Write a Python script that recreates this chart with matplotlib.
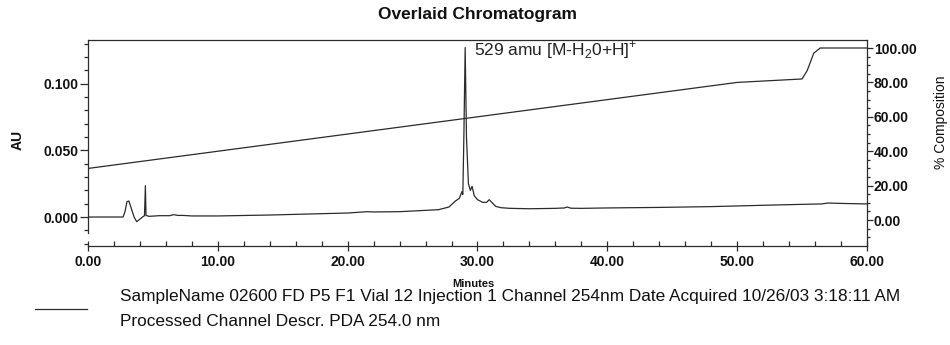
import matplotlib
matplotlib.use("Agg")
import matplotlib.pyplot as plt
from matplotlib.ticker import MultipleLocator, FixedLocator, FixedFormatter
from matplotlib.lines import Line2D

# ---------------- data ----------------
title = "Overlaid Chromatogram"

# chromatogram trace (minutes, AU)
trace_time = [0.0, 2.7, 2.85, 3.0, 3.15, 3.35, 3.55, 3.75, 3.95, 4.2, 4.35, 4.42, 4.47, 4.55,
              4.7, 5.5, 6.3, 6.6, 6.9, 7.3, 8.0, 10.0, 14.0, 18.0, 20.0, 21.5, 22.0, 24.0,
              26.0, 27.0, 27.8, 28.3, 28.6, 28.8, 28.87, 28.95, 29.05, 29.15, 29.3, 29.45,
              29.58, 29.75, 30.0, 30.4, 30.7, 30.9, 31.1, 31.4, 31.8, 32.5, 34.0, 36.0,
              36.7, 36.9, 37.2, 38.0, 40.0, 44.0, 48.0, 52.0, 55.0, 56.5, 57.0, 58.0, 60.0]
trace_au = [0.0, 0.0, 0.004, 0.0115, 0.012, 0.006, 0.0, -0.0035, -0.002, 0.0, 0.001, 0.0235,
            0.001, 0.001, 0.0005, 0.001, 0.001, 0.0018, 0.0012, 0.0012, 0.0008, 0.0008,
            0.0015, 0.0025, 0.003, 0.004, 0.0038, 0.004, 0.005, 0.0055, 0.0075, 0.012,
            0.014, 0.019, 0.017, 0.06, 0.127, 0.06, 0.025, 0.02, 0.023, 0.016, 0.013,
            0.011, 0.011, 0.013, 0.011, 0.008, 0.007, 0.0065, 0.0062, 0.0065, 0.0068,
            0.0075, 0.0066, 0.0065, 0.0068, 0.0072, 0.0078, 0.0088, 0.0095, 0.0098,
            0.0105, 0.0102, 0.0098]

# gradient (% composition)
grad_time = [0.0, 50.0, 55.0, 55.4, 55.9, 56.4, 60.0]
grad_pct = [30.0, 80.0, 82.0, 87.0, 97.0, 100.0, 100.0]

x_ticks = [0, 10, 20, 30, 40, 50, 60]
x_tick_labels = ["0.00", "10.00", "20.00", "30.00", "40.00", "50.00", "60.00"]
y_ticks = [0.0, 0.05, 0.10]
y_tick_labels = ["0.000", "0.050", "0.100"]
y2_ticks = [0, 20, 40, 60, 80, 100]
y2_tick_labels = ["0.00", "20.00", "40.00", "60.00", "80.00", "100.00"]

annotation = r"529 amu [M-H$_\mathregular{2}$0+H]$^\mathregular{+}$"
annotation_xy = (29.7, 0.1215)
x_label = "Minutes"
y_label = "AU"
y2_label = "% Composition"
legend_line1 = "SampleName 02600 FD P5 F1 Vial 12 Injection 1 Channel 254nm Date Acquired 10/26/03 3:18:11 AM"
legend_line2 = "Processed Channel Descr. PDA 254.0 nm"

# ---------------- figure ----------------
plt.rcParams['font.family'] = ['Liberation Sans', 'DejaVu Sans']
W, H = 950, 345
fig = plt.figure(figsize=(W / 100, H / 100), dpi=100)

left_px, right_px, top_px, bot_px = 88, 867, 40, 245.7
ax = fig.add_axes([left_px / W, 1 - bot_px / H, (right_px - left_px) / W, (bot_px - top_px) / H])

line_color = "#2b2b2b"
ax.plot(trace_time, trace_au, color=line_color, lw=0.9)
ax.set_xlim(0, 60)
ax.set_ylim(-0.0215, 0.1327)

ax2 = ax.twinx()
ax2.plot(grad_time, grad_pct, color=line_color, lw=0.9)
ax2.set_ylim(-14.9, 104.65)

# spines
for a in (ax, ax2):
    for s in a.spines.values():
        s.set_linewidth(0.9)
        s.set_color(line_color)
ax.spines['right'].set_visible(False)
ax.spines['left'].set_bounds(-0.012, 0.1327)
for s in ('top', 'left', 'bottom'):
    ax2.spines[s].set_visible(False)

# ticks
ax.xaxis.set_major_locator(FixedLocator(x_ticks))
ax.xaxis.set_major_formatter(FixedFormatter(x_tick_labels))
ax.xaxis.set_minor_locator(MultipleLocator(2))
ax.tick_params(axis='x', which='major', direction='inout', length=7, width=0.9, pad=3, colors=line_color)
ax.tick_params(axis='x', which='minor', direction='in', length=3.5, width=0.9, colors=line_color)

ax.yaxis.set_major_locator(FixedLocator(y_ticks))
ax.yaxis.set_major_formatter(FixedFormatter(y_tick_labels))
ax.yaxis.set_minor_locator(MultipleLocator(0.01))
ax.tick_params(axis='y', which='major', direction='out', length=6, width=0.9, pad=0.5, colors=line_color)
ax.tick_params(axis='y', which='minor', direction='out', length=3, width=0.9, colors=line_color)

ax2.yaxis.set_major_locator(FixedLocator(y2_ticks))
ax2.yaxis.set_major_formatter(FixedFormatter(y2_tick_labels))
ax2.yaxis.set_minor_locator(MultipleLocator(5))
ax2.tick_params(axis='y', which='major', direction='out', length=4.5, width=0.9, pad=0.5, colors=line_color)
ax2.tick_params(axis='y', which='minor', direction='out', length=2.5, width=0.9, colors=line_color)
ax2.set_ylim(-14.9, 104.65)

for lab in ax.get_xticklabels() + ax.get_yticklabels() + ax2.get_yticklabels():
    lab.set_fontsize(10)
    lab.set_fontweight('bold')
    lab.set_color('#111111')

# texts
fig.text(477 / W, 1 - 14 / H, title, ha='center', va='center', fontsize=12.5, fontweight='bold', color='#111111')
fig.text(18 / W, 1 - 140 / H, y_label, ha='center', va='center', rotation=90, fontsize=10, fontweight='bold', color='#111111')
fig.text(941 / W, 1 - 122 / H, y2_label, ha='center', va='center', rotation=90, fontsize=10, color='#111111')
fig.text(473 / W, 1 - 284 / H, x_label, ha='center', va='center', fontsize=8, fontweight='bold', color='#111111')
ax.text(annotation_xy[0], annotation_xy[1], annotation, ha='left', va='baseline', fontsize=12.5, color='#222222')

# legend
fig.add_artist(Line2D([35 / W, 87 / W], [1 - 309 / H, 1 - 309 / H], color=line_color, lw=0.9))
fig.text(120 / W, 1 - 297 / H, legend_line1, ha='left', va='center', fontsize=12.4, color='#111111')
fig.text(120 / W, 1 - 321 / H, legend_line2, ha='left', va='center', fontsize=12.4, color='#111111')

fig.savefig("out.png", dpi=100)
